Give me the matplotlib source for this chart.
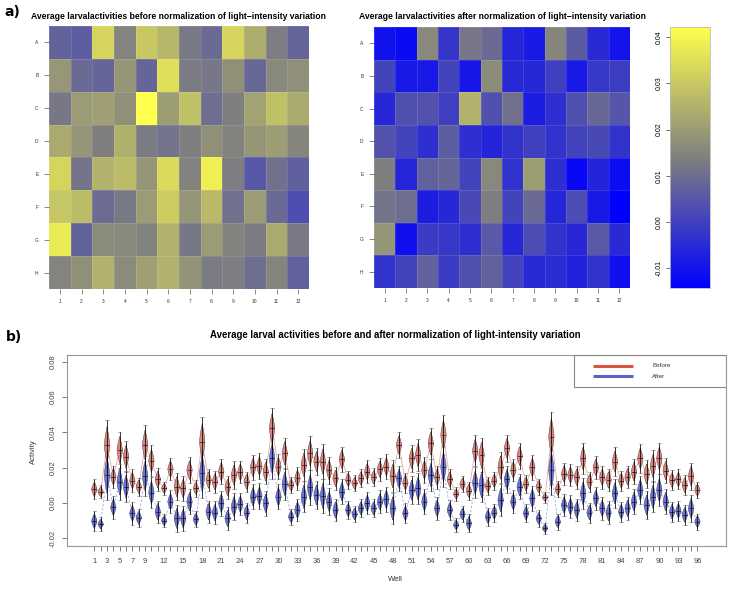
import numpy as np
import matplotlib
matplotlib.use("Agg")
import matplotlib.pyplot as plt
from matplotlib.colors import LinearSegmentedColormap, Normalize
from matplotlib.patches import Polygon, Rectangle

plt.rcParams['font.family'] = ['Liberation Sans', 'DejaVu Sans']

rows = list("ABCDEFGH")
cols = [str(i) for i in range(1, 13)]
wells = list(range(1, 97))

# median activity per well (row-major A1..A12, B1..B12, ...)
before = [
    0.0077, 0.0063, 0.0328, 0.0148, 0.0300, 0.0262, 0.0126, 0.0092, 0.0328, 0.0239, 0.0133, 0.0082,
    0.0192, 0.0092, 0.0082, 0.0186, 0.0082, 0.0347, 0.0130, 0.0120, 0.0177, 0.0088, 0.0158, 0.0174,
    0.0120, 0.0201, 0.0209, 0.0177, 0.0422, 0.0205, 0.0281, 0.0101, 0.0139, 0.0215, 0.0281, 0.0234,
    0.0234, 0.0186, 0.0139, 0.0247, 0.0130, 0.0111, 0.0139, 0.0177, 0.0145, 0.0190, 0.0205, 0.0152,
    0.0328, 0.0115, 0.0252, 0.0271, 0.0186, 0.0337, 0.0145, 0.0385, 0.0133, 0.0050, 0.0107, 0.0069,
    0.0296, 0.0271, 0.0096, 0.0126, 0.0201, 0.0309, 0.0186, 0.0266, 0.0107, 0.0201, 0.0092, 0.0031,
    0.0375, 0.0077, 0.0164, 0.0158, 0.0145, 0.0252, 0.0120, 0.0201, 0.0145, 0.0130, 0.0234, 0.0126,
    0.0148, 0.0177, 0.0252, 0.0164, 0.0209, 0.0252, 0.0183, 0.0130, 0.0133, 0.0101, 0.0152, 0.0073,
]
after = [
    -0.0103, -0.0120, 0.0158, -0.0025, 0.0120, 0.0092, -0.0059, -0.0084, 0.0152, 0.0058, -0.0050, -0.0101,
    0.0007, -0.0088, -0.0088, 0.0007, -0.0093, 0.0167, -0.0050, -0.0055, -0.0002, -0.0088, -0.0021, -0.0007,
    -0.0055, 0.0035, 0.0039, -0.0002, 0.0252, 0.0035, 0.0107, -0.0078, -0.0040, 0.0035, 0.0088, 0.0045,
    0.0039, 0.0007, -0.0040, 0.0064, -0.0040, -0.0063, -0.0031, -0.0002, -0.0031, 0.0007, 0.0020, -0.0031,
    0.0139, -0.0059, 0.0073, 0.0082, 0.0007, 0.0158, -0.0031, 0.0205, -0.0040, -0.0125, -0.0063, -0.0116,
    0.0115, 0.0101, -0.0078, -0.0055, 0.0016, 0.0133, 0.0007, 0.0092, -0.0059, 0.0026, -0.0088, -0.0144,
    0.0186, -0.0106, -0.0012, -0.0021, -0.0040, 0.0054, -0.0055, 0.0026, -0.0031, -0.0055, 0.0054, -0.0050,
    -0.0031, 0.0007, 0.0073, -0.0012, 0.0035, 0.0073, 0.0007, -0.0050, -0.0044, -0.0068, -0.0031, -0.0106,
]
# half height of each bean
spread = [
    0.0042, 0.0028, 0.0104, 0.0047, 0.0076, 0.0066, 0.0047, 0.0038, 0.0085, 0.0066, 0.0047, 0.0028,
    0.0047, 0.0057, 0.0053, 0.0053, 0.0034, 0.0104, 0.0047, 0.0047, 0.0053, 0.0047, 0.0057, 0.0047,
    0.0042, 0.0053, 0.0053, 0.0053, 0.0085, 0.0053, 0.0066, 0.0034, 0.0047, 0.0066, 0.0072, 0.0057,
    0.0072, 0.0057, 0.0047, 0.0053, 0.0038, 0.0034, 0.0038, 0.0047, 0.0038, 0.0047, 0.0053, 0.0066,
    0.0053, 0.0042, 0.0057, 0.0066, 0.0053, 0.0066, 0.0047, 0.0085, 0.0042, 0.0028, 0.0034, 0.0038,
    0.0066, 0.0072, 0.0038, 0.0038, 0.0066, 0.0057, 0.0047, 0.0053, 0.0038, 0.0053, 0.0034, 0.0023,
    0.0104, 0.0034, 0.0047, 0.0047, 0.0047, 0.0066, 0.0042, 0.0047, 0.0047, 0.0047, 0.0060, 0.0042,
    0.0047, 0.0053, 0.0060, 0.0057, 0.0066, 0.0066, 0.0053, 0.0042, 0.0042, 0.0042, 0.0057, 0.0034,
]
well_labels = [1, 3, 5, 7, 9] + list(range(12, 97, 3))
cbar_ticks = [-0.01, 0.00, 0.01, 0.02, 0.03, 0.04]
y_ticks = [-0.02, 0.00, 0.02, 0.04, 0.06, 0.08]

vmin, vmax = -0.0143, 0.0422
cmap = LinearSegmentedColormap.from_list("blue_yellow", ["#0000ff", "#808080", "#ffff4d"])
norm = Normalize(vmin, vmax)

fig = plt.figure(figsize=(7.33, 5.90), dpi=100)


def heatmap(rect, values, title, title_x):
    ax = fig.add_axes(rect)
    grid = np.array(values).reshape(8, 12)
    ax.pcolormesh(np.arange(13) + 0.5, np.arange(9) + 0.5, grid, cmap=cmap, norm=norm,
                  edgecolors=(1, 1, 1, 0.12), linewidth=0.5)
    ax.set_xlim(0.5, 12.5)
    ax.set_ylim(8.5, 0.5)
    ax.set_xticks(range(1, 13))
    ax.set_xticklabels(cols, fontsize=3.5)
    ax.set_yticks(range(1, 9))
    ax.set_yticklabels(rows, fontsize=3.5)
    for s in ax.spines.values():
        s.set_visible(False)
    ax.tick_params(length=3.5, width=0.4, pad=4, colors='#333333')
    fig.text(title_x, 0.972, title, ha='center', va='center', fontsize=6.25, fontweight='bold')
    return ax


heatmap([49 / 733, 1 - 289 / 590, 260 / 733, 263 / 590], before,
        "Average larvalactivities before normalization of light\u2212intensity variation", 0.243)
heatmap([374 / 733, 1 - 288 / 590, 256 / 733, 261 / 590], after,
        "Average larvalactivities after normalization of light\u2212intensity variation", 0.685)

cax = fig.add_axes([670 / 733, 1 - 288 / 590, 40 / 733, 261 / 590])
cb = fig.colorbar(plt.cm.ScalarMappable(norm=norm, cmap=cmap), cax=cax)
cb.outline.set_edgecolor('#bbbbbb')
cb.outline.set_linewidth(0.6)
cax.yaxis.set_ticks_position('left')
cb.set_ticks(cbar_ticks)
cb.set_ticklabels(["%.2f" % v for v in cbar_ticks])
cax.tick_params(length=3, width=0.4, pad=2, labelsize=5)
for lab in cax.get_yticklabels():
    lab.set_rotation(90)
    lab.set_va('center')

fig.text(0.006, 0.979, "a)", fontsize=10, fontweight='bold', family='DejaVu Sans', va='center')
fig.text(0.008, 0.429, "b)", fontsize=10, fontweight='bold', family='DejaVu Sans', va='center')

# bean plot
ax = fig.add_axes([67 / 733, 1 - 546 / 590, 659 / 733, 191 / 590])
ax.set_xlim(-3.3, 100.5)
ax.set_ylim(-0.0244, 0.0838)

red, blue = '#e0847e', '#6b74dc'
ax.plot(wells, before, color='#eba8a3', lw=0.6, zorder=1)
ax.plot(wells, after, color='#a3a8e8', lw=0.6, ls=(0, (3, 2)), zorder=1)

t = np.linspace(-1, 1, 41)
prof = 1 - np.abs(t) ** 1.4
half_w = 0.42
for x, b, a, s in zip(wells, before, after, spread):
    for c, fc in ((b, red), (a, blue)):
        xs = np.concatenate([x + half_w * prof, x - half_w * prof[::-1]])
        ys = np.concatenate([c + s * t, c + s * t[::-1]])
        ax.add_patch(Polygon(np.column_stack([xs, ys]), closed=True, fc=fc, ec='#333333',
                             lw=0.3, zorder=3))
        ax.plot([x, x], [c - 1.35 * s, c + 1.35 * s], color='black', lw=0.55, zorder=4)
        ax.plot([x - 0.3, x + 0.3], [c, c], color='black', lw=0.45, zorder=4)
        for end in (c - 1.35 * s, c + 1.35 * s):
            ax.plot([x - 0.28, x + 0.28], [end, end], color='#777777', lw=0.4, zorder=4)

ax.set_xticks(wells)
ax.set_xticklabels([str(w) if w in well_labels else '' for w in wells], fontsize=5.5)
ax.set_yticks(y_ticks)
ax.set_yticklabels(["%.2f" % v for v in y_ticks], fontsize=5.5)
for lab in ax.get_yticklabels():
    lab.set_rotation(90)
    lab.set_va('center')
ax.tick_params(axis='x', length=3.5, width=0.5, pad=5, colors='#444444')
ax.tick_params(axis='y', length=3.5, width=0.5, pad=4, colors='#444444')
for s in ax.spines.values():
    s.set_color('#999999')
    s.set_linewidth(0.8)

# legend
ax.add_patch(Rectangle((0.769, 0.8325), 0.231, 0.1675, transform=ax.transAxes, fill=False,
                       ec='#888888', lw=0.8, zorder=5))
ax.plot([0.798, 0.859], [0.944, 0.944], transform=ax.transAxes, color='#d9553f', lw=2.2,
        solid_capstyle='butt', zorder=5)
ax.plot([0.798, 0.859], [0.890, 0.890], transform=ax.transAxes, color='#5c60cc', lw=2.2,
        solid_capstyle='butt', zorder=5)
ax.text(0.888, 0.944, "Before", transform=ax.transAxes, fontsize=4.5, va='center', color='#333333')
ax.text(0.888, 0.890, "After", transform=ax.transAxes, fontsize=4.5, va='center', color='#333333')

fig.text(0.5396, 0.432, "Average larval activities before and after normalization of light-intensity variation",
         ha='center', va='center', fontsize=6.9, fontweight='bold')
fig.text(0.045, 0.234, "Activity", rotation=90, ha='center', va='center', fontsize=5.5, color='#333333')
fig.text(0.540, 0.017, "Well", ha='center', va='center', fontsize=5.5, color='#333333')

fig.savefig("out.png", dpi=100)
